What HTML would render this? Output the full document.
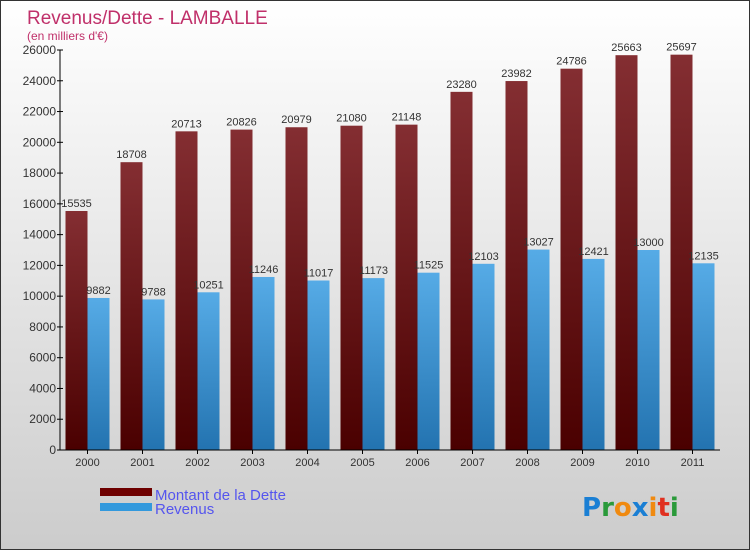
<!DOCTYPE html>
<html><head><meta charset="utf-8"><style>
body{margin:0;width:750px;height:550px;overflow:hidden;font-family:"Liberation Sans",sans-serif}
</style></head><body>
<svg width="750" height="550" xmlns="http://www.w3.org/2000/svg">
<defs>
<linearGradient id="bg" x1="0" y1="0" x2="0" y2="1"><stop offset="0" stop-color="#ffffff"/><stop offset="1" stop-color="#cccccc"/></linearGradient>
<linearGradient id="red" x1="0" y1="0" x2="0" y2="1"><stop offset="0" stop-color="#842e32"/><stop offset="1" stop-color="#4a0000"/></linearGradient>
<linearGradient id="blue" x1="0" y1="0" x2="0" y2="1"><stop offset="0" stop-color="#56abe6"/><stop offset="1" stop-color="#2373b0"/></linearGradient>
</defs>
<rect x="0.5" y="0.5" width="749" height="549" fill="url(#bg)" stroke="#333"/>
<text x="27" y="24" font-size="19" fill="#c0306a">Revenus/Dette - LAMBALLE</text>
<text x="27" y="40" font-size="12" fill="#c0306a">(en milliers d'€)</text>
<g id="plot"></g>
<rect x="100" y="488" width="52" height="8" fill="#6e0000"/>
<rect x="100" y="503" width="52" height="8" fill="#3399dd"/>
<text x="155" y="500" font-size="15" fill="#5555ee">Montant de la Dette</text>
<text x="155" y="514" font-size="15" fill="#5555ee">Revenus</text>
<g font-size="26" font-weight="bold" font-family="'DejaVu Sans',sans-serif">
<text x="582" y="516"><tspan fill="#1a7fd4">P</tspan><tspan fill="#2a9a3a">r</tspan><tspan fill="#f08a10">o</tspan><tspan fill="#1a7fd4">x</tspan><tspan fill="#f08a10">i</tspan><tspan fill="#e03020">t</tspan><tspan fill="#2a9a3a">i</tspan></text>
</g>
</svg>
<script>
const years=["2000","2001","2002","2003","2004","2005","2006","2007","2008","2009","2010","2011"];
const dette=[15535,18708,20713,20826,20979,21080,21148,23280,23982,24786,25663,25697];
const revenus=[9882,9788,10251,11246,11017,11173,11525,12103,13027,12421,13000,12135];
const yTicks=[0,2000,4000,6000,8000,10000,12000,14000,16000,18000,20000,22000,24000,26000];
const NS="http://www.w3.org/2000/svg";
const g=document.getElementById('plot');
const x0=60,step=55,yb=450,yt=50,ymax=26000;
const y=v=>yb-(v/ymax)*(yb-yt);
const cx=i=>x0+step*i+27.5;
function mk(t,a){const e=document.createElementNS(NS,t);for(const k in a)e.setAttribute(k,a[k]);g.appendChild(e);return e;}
years.forEach((yr,i)=>{
 const r=mk('rect',{x:cx(i)-22,y:y(dette[i]),width:22,height:yb-y(dette[i]),fill:'url(#red)'});
 
 
 const b=mk('rect',{x:cx(i),y:y(revenus[i]),width:22,height:yb-y(revenus[i]),fill:'url(#blue)'});
 
 
 const t1=mk('text',{x:cx(i)-11,y:y(dette[i])-4,'font-size':11,fill:'#333','text-anchor':'middle'});t1.textContent=dette[i];
 
 
 const t2=mk('text',{x:cx(i)+11,y:y(revenus[i])-4,'font-size':11,fill:'#333','text-anchor':'middle'});t2.textContent=revenus[i];
 
 
 mk('line',{x1:cx(i),x2:cx(i),y1:yb,y2:yb+4,stroke:'#000'});
 const xl=mk('text',{x:cx(i),y:yb+16,'font-size':11,fill:'#333','text-anchor':'middle'});xl.textContent=yr;
 
 
});
yTicks.forEach(v=>{
 mk('line',{x1:x0-3,x2:x0+3,y1:y(v),y2:y(v),stroke:'#000'});
 const t=mk('text',{x:x0-4,y:y(v)+4,'font-size':12,fill:'#333','text-anchor':'end'});t.textContent=v;
 
 
});
const ya=mk('line',{x1:x0,x2:x0,y1:yt,y2:yb,stroke:'#000'});


const xa=mk('line',{x1:x0-3,x2:x0+step*12,y1:yb,y2:yb,stroke:'#000'});


</script>
</body></html>
